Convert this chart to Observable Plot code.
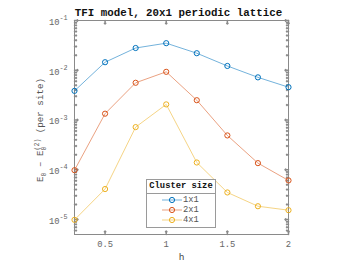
<!DOCTYPE html>
<html><head>
<meta charset="utf-8">
<script src="https://cdn.jsdelivr.net/npm/d3@7"></script>
<script src="https://cdn.jsdelivr.net/npm/@observablehq/plot@0.6"></script>
<style>
body{margin:0;background:#fff}
#wrap{position:relative;width:350px;height:263px;overflow:hidden}
#legend{position:absolute;left:146px;top:179px;width:70px;height:49px;border:1.5px solid #9a9a9a;background:#fff;font-family:'Liberation Mono','DejaVu Sans Mono',monospace;font-size:8.8px;box-sizing:border-box}
#legend .ttl{height:12.5px;line-height:12.5px;text-align:center;font-weight:bold;color:#111;border-bottom:1px solid #9a9a9a}
#legend .row{position:absolute;left:15px;height:10px;line-height:10px;color:#555;display:flex;align-items:center}
#legend .row span{margin-left:1px}
</style>
</head><body><div id="wrap"></div>
<script>
const hValues = [0.25, 0.5, 0.75, 1, 1.25, 1.5, 1.75, 2];
const e1x1 = [3.85e-3, 1.45e-2, 2.8e-2, 3.5e-2, 2.2e-2, 1.22e-2, 7.2e-3, 4.57e-3];
const e2x1 = [9.8e-5, 1.34e-3, 5.6e-3, 9.3e-3, 2.5e-3, 4.9e-4, 1.36e-4, 6.1e-5];
const e4x1 = [9.85e-6, 4.1e-5, 7.2e-4, 2.06e-3, 1.4e-4, 3.5e-5, 1.85e-5, 1.54e-5];
const seriesNames = ["1x1", "2x1", "4x1"];
const seriesColors = ["#0072BD", "#D95319", "#EDB120"];
const xTicks = [0.5, 1, 1.5, 2];
const xTickLabels = ["0.5", "1", "1.5", "2"];
const yTicks = [1e-5, 1e-4, 1e-3, 1e-2, 1e-1];
const yTickExponents = ["-5", "-4", "-3", "-2", "-1"];
const titleText = "TFI model, 20x1 periodic lattice";
const legendTitle = "Cluster size";

const seriesValues = [e1x1, e2x1, e4x1];
const data = [];
seriesNames.forEach((s, i) => hValues.forEach((h, j) => data.push({h, e: seriesValues[i][j], series: s})));

const yDomain = [5e-6, 1e-1];
const yMinor = [];
for (let d = -6; d <= -2; d++) for (let k = 2; k <= 9; k++) {
  const v = k * Math.pow(10, d);
  if (v > yDomain[0] && v < yDomain[1]) yMinor.push(v);
}

const mono = "'Liberation Mono','DejaVu Sans Mono',monospace";
const axisColor = "#8a8a8a";
const textColor = "#666";

const chart = Plot.plot({
  width: 350, height: 263,
  marginLeft: 74, marginRight: 62, marginTop: 20, marginBottom: 29,
  style: {fontFamily: mono, fontSize: "8.8px", background: "#fff", color: textColor},
  x: {domain: [0.25, 2], axis: null},
  y: {type: "log", domain: yDomain, axis: null},
  color: {domain: seriesNames, range: seriesColors},
  marks: [
    Plot.frame({stroke: axisColor, strokeWidth: 1}),
    // inward ticks
    Plot.vector(xTicks, {x: d => d, frameAnchor: "bottom", rotate: 0, length: 3.5, anchor: "start", stroke: axisColor}),
    Plot.vector(xTicks, {x: d => d, frameAnchor: "top", rotate: 180, length: 3.5, anchor: "start", stroke: axisColor}),
    Plot.vector(yTicks, {y: d => d, frameAnchor: "left", rotate: 90, length: 3.5, anchor: "start", stroke: axisColor}),
    Plot.vector(yTicks, {y: d => d, frameAnchor: "right", rotate: -90, length: 3.5, anchor: "start", stroke: axisColor}),
    Plot.vector(yMinor, {y: d => d, frameAnchor: "left", rotate: 90, length: 2, anchor: "start", stroke: axisColor}),
    Plot.vector(yMinor, {y: d => d, frameAnchor: "right", rotate: -90, length: 2, anchor: "start", stroke: axisColor}),
    // tick labels
    Plot.text(xTicks, {x: d => d, frameAnchor: "bottom", lineAnchor: "middle", text: (d, i) => xTickLabels[i], dy: 10, fill: textColor, fontSize: 8.8}),
    Plot.text(["h"], {frameAnchor: "bottom", lineAnchor: "middle", dy: 22.5, fill: "#444", fontSize: 9.5}),
    Plot.text(yTicks, {y: d => d, frameAnchor: "left", lineAnchor: "middle", text: () => "10", textAnchor: "end", dx: -15, dy: 1.5, fill: textColor, fontSize: 8.8}),
    Plot.text(yTicks, {y: d => d, frameAnchor: "left", lineAnchor: "middle", text: (d, i) => yTickExponents[i], textAnchor: "start", dx: -15, dy: -2.5, fill: textColor, fontSize: 6.8}),
    // title
    Plot.text([titleText], {frameAnchor: "top", lineAnchor: "middle", dy: -8, dx: -3, fontWeight: "bold", fontSize: 10.8, fill: "#111"}),
    // data
    Plot.line(data, {x: "h", y: "e", z: "series", stroke: "series", strokeOpacity: 0.55, strokeWidth: 1}),
    Plot.dot(data, {x: "h", y: "e", stroke: "series", r: 2.6, strokeWidth: 1, fill: "none"})
  ]
});

const wrap = document.getElementById("wrap");
wrap.appendChild(chart);

// y-axis label
const svg = d3.select(chart);
const lbl = svg.append("text")
  .attr("transform", "translate(43,130) rotate(-90)")
  .attr("text-anchor", "middle")
  .attr("font-family", mono)
  .attr("font-size", 9.2)
  .attr("fill", "#555");
lbl.append("tspan").text("E");
lbl.append("tspan").attr("font-size", 6.5).attr("dy", 2.5).text("0");
lbl.append("tspan").attr("dy", -2.5).text(" \u2013 E");
lbl.append("tspan").attr("font-size", 6.5).attr("dy", 2.5).text("0");
lbl.append("tspan").attr("font-size", 6.5).attr("dx", -3.9).attr("dy", -7).text("(2)");
lbl.append("tspan").attr("dy", 4.5).text(" (per site)");

// legend
const leg = document.createElement("div");
leg.id = "legend";
leg.innerHTML = `<div class="ttl">${legendTitle}</div>`;
seriesNames.forEach((s, i) => {
  const row = document.createElement("div");
  row.className = "row";
  row.style.top = (15 + i * 10) + "px";
  row.innerHTML = `<svg width="20" height="8"><line x1="0" x2="20" y1="4" y2="4" stroke="${seriesColors[i]}" stroke-opacity="0.55"/><circle cx="10" cy="4" r="2.6" fill="none" stroke="${seriesColors[i]}" stroke-width="1"/></svg><span>${s}</span>`;
  leg.appendChild(row);
});
wrap.appendChild(leg);
</script>
</body></html>
